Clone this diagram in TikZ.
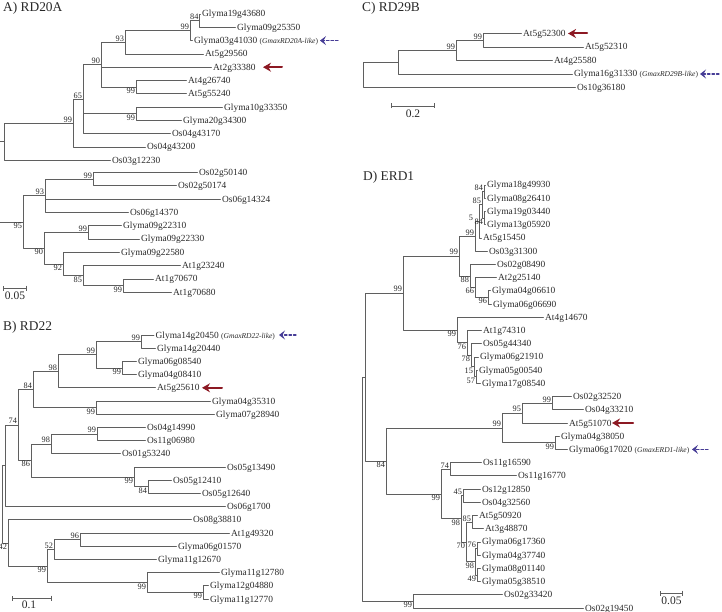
\documentclass[tikz,border=0pt]{standalone}
\usepackage{fontspec}
\setmainfont{Liberation Serif}
\usetikzlibrary{arrows.meta}
\definecolor{brgray}{RGB}{95,95,95}
\definecolor{txtgray}{RGB}{40,40,40}
\definecolor{arrred}{RGB}{140,25,35}
\definecolor{arrblue}{RGB}{70,60,150}
\tikzset{
    ttl/.style={
        font=\fontsize{13.4}{16}\selectfont, anchor=west, inner sep=0pt, text=txtgray
    }
}
\newcommand{\gmx}[1]{{\fontsize{7.5}{9}\selectfont(\textit{#1})}}

\begin{document}
\begin{tikzpicture}[x=1pt,y=-1pt, line cap=round, line join=round]

\tikzset{
  br/.style={draw=brgray, line width=0.75pt},
  leaf/.style={anchor=west, inner xsep=1.5pt, inner ysep=0pt, text height=6.4pt, text depth=0.4pt, font=\fontsize{9.4}{11}\selectfont, text=txtgray},
  bsu/.style={anchor=south east, inner sep=0.8pt, font=\fontsize{8.3}{10}\selectfont, text=txtgray},
  bsd/.style={anchor=north east, inner sep=0.8pt, font=\fontsize{8.3}{10}\selectfont, text=txtgray},
  scb/.style={draw=brgray, line width=0.8pt, {Bar[width=5pt]}-{Bar[width=5pt]}},
  sclab/.style={anchor=north, inner sep=1pt, font=\fontsize{11.5}{13}\selectfont, text=txtgray},
  redarr/.style={draw=arrred, line width=2pt, -{Stealth[length=8pt,width=9pt]}},
  bluearr/.style={draw=arrblue, line width=1.2pt, dash pattern=on 2.5pt off 2pt, -{Stealth[length=6pt,width=9pt,inset=2.5pt]}},
}

\useasboundingbox (0,0) rectangle (722,612);

% titles
\node[ttl] (tA) at (3,8) {A) RD20A};
\node[ttl] (tB) at (3,327) {B) RD22};
\node[ttl] (tC) at (362,8) {C) RD29B};
\node[ttl] (tD) at (363,177) {D) ERD1};

% ---------- A) RD20A, upper part
\coordinate (A84) at (199.5,20.65);
\coordinate (A99a) at (190,30.6);
\coordinate (A93) at (125,42.25);
\coordinate (A99b) at (136,87.15);
\coordinate (A90) at (101,64.7);
\coordinate (A99c) at (136,113.75);
\coordinate (A65) at (83,99.2);
\coordinate (A99d) at (73,123.1);
\coordinate (Aroot) at (4,141.7);
\coordinate (Astub) at (0,141.7);

\node[leaf] (Glyma19g43680) at (200.5,14) {Glyma19g43680};
\node[leaf] (Glyma09g25350) at (235.5,27.3) {Glyma09g25350};
\node[leaf] (Glyma03g41030) at (192.5,40.6) {Glyma03g41030 \gmx{GmaxRD20A-like}};
\node[leaf] (At5g29560) at (203.5,53.9) {At5g29560};
\node[leaf] (At2g33380) at (211.5,67.2) {At2g33380};
\node[leaf] (At4g26740) at (186.5,80.5) {At4g26740};
\node[leaf] (At5g55240) at (186.5,93.8) {At5g55240};
\node[leaf] (Glyma10g33350) at (222.5,107.1) {Glyma10g33350};
\node[leaf] (Glyma20g34300) at (181.5,120.4) {Glyma20g34300};
\node[leaf] (Os04g43170) at (170.5,133.7) {Os04g43170};
\node[leaf] (Os04g43200) at (145.5,147) {Os04g43200};
\node[leaf] (Os03g12230) at (110.5,160.3) {Os03g12230};

\draw[br] (A84) |- (Glyma19g43680.west) (A84) |- (Glyma09g25350.west);
\draw[br] (A99a) |- (A84) (A99a) |- (Glyma03g41030.west);
\draw[br] (A93) |- (A99a) (A93) |- (At5g29560.west);
\draw[br] (A99b) |- (At4g26740.west) (A99b) |- (At5g55240.west);
\draw[br] (A90) |- (A93) (A90) |- (At2g33380.west) (A90) |- (A99b);
\draw[br] (A99c) |- (Glyma10g33350.west) (A99c) |- (Glyma20g34300.west);
\draw[br] (A65) |- (A90) (A65) |- (A99c) (A65) |- (Os04g43170.west);
\draw[br] (A99d) |- (A65) (A99d) |- (Os04g43200.west);
\draw[br] (Aroot) |- (A99d) (Aroot) |- (Os03g12230.west);
\draw[br] (Astub) -- (Aroot);

\node[bsu] (bA84) at (A84) {84};
\node[bsu] (bA99a) at (A99a) {99};
\node[bsu] (bA93) at (A93) {93};
\node[bsu] (bA90) at (A90) {90};
\node[bsd] (bA99b) at (A99b) {99};
\node[bsd] (bA99c) at (A99c) {99};
\node[bsu] (bA65) at (A65) {65};
\node[bsu] (bA99d) at (A99d) {99};

% ---------- A) RD20A, lower part
\coordinate (A99e) at (93,179.15);
\coordinate (A93b) at (45,195.8);
\coordinate (A99f) at (88,232.35);
\coordinate (A99g) at (123,285.55);
\coordinate (A85) at (83,275.6);
\coordinate (A92) at (63,263.95);
\coordinate (A90b) at (44,248.15);
\coordinate (A95) at (23,222);
\coordinate (Astub2) at (0,222);

\node[leaf] (Os02g50140) at (197.5,172.5) {Os02g50140};
\node[leaf] (Os02g50174) at (176.5,185.8) {Os02g50174};
\node[leaf] (Os06g14324) at (220.5,199.1) {Os06g14324};
\node[leaf] (Os06g14370) at (128.5,212.4) {Os06g14370};
\node[leaf] (Glyma09g22310) at (121.5,225.7) {Glyma09g22310};
\node[leaf] (Glyma09g22330) at (139.5,239) {Glyma09g22330};
\node[leaf] (Glyma09g22580) at (119.5,252.3) {Glyma09g22580};
\node[leaf] (At1g23240) at (180.5,265.6) {At1g23240};
\node[leaf] (At1g70670) at (153.5,278.9) {At1g70670};
\node[leaf] (At1g70680) at (171.5,292.2) {At1g70680};

\draw[br] (A99e) |- (Os02g50140.west) (A99e) |- (Os02g50174.west);
\draw[br] (A93b) |- (A99e) (A93b) |- (Os06g14324.west) (A93b) |- (Os06g14370.west);
\draw[br] (A99f) |- (Glyma09g22310.west) (A99f) |- (Glyma09g22330.west);
\draw[br] (A99g) |- (At1g70670.west) (A99g) |- (At1g70680.west);
\draw[br] (A85) |- (At1g23240.west) (A85) |- (A99g);
\draw[br] (A92) |- (Glyma09g22580.west) (A92) |- (A85);
\draw[br] (A90b) |- (A99f) (A90b) |- (A92);
\draw[br] (A95) |- (A93b) (A95) |- (A90b);
\draw[br] (Astub2) -- (A95);

\node[bsu] (bA99e) at (A99e) {99};
\node[bsu] (bA93b) at (A93b) {93};
\node[bsd] (bA95) at (A95) {95};
\node[bsu] (bA99f) at (A99f) {99};
\node[bsd] (bA90b) at (A90b) {90};
\node[bsd] (bA92) at (A92) {92};
\node[bsd] (bA85) at (A85) {85};
\node[bsd] (bA99g) at (A99g) {99};

% scale A
\coordinate (sA1) at (3,288);
\coordinate (sA2) at (27,288);
\draw[scb] (sA1) -- (sA2);
\node[sclab] (sAl) at (15,291) {0.05};

% ---------- B) RD22
\coordinate (B99a) at (141,341.6);
\coordinate (B99c) at (122,368);
\coordinate (B99b) at (96,354.8);
\coordinate (B98) at (58,371.3);
\coordinate (B99d) at (96,407.6);
\coordinate (B84) at (33,389.45);
\coordinate (B99e) at (97,434);
\coordinate (B98b) at (51,443.9);
\coordinate (B84b) at (148,486.8);
\coordinate (B99f) at (134,476.9);
\coordinate (B86) at (31,460.4);
\coordinate (B74) at (18,424.9);
\coordinate (Bn1) at (5,465.75);
\coordinate (B99h) at (203,592.4);
\coordinate (B99g) at (147,582.5);
\coordinate (B96) at (80,539.6);
\coordinate (B52) at (54,549.5);
\coordinate (B99i) at (47,566);
\coordinate (B42) at (8,542.9);
\coordinate (Broot) at (2,504.3);

\node[leaf] (Glyma14g20450) at (154,335) {Glyma14g20450 \gmx{GmaxRD22-like}};
\node[leaf] (Glyma14g20440) at (155.5,348.2) {Glyma14g20440};
\node[leaf] (Glyma06g08540) at (136.5,361.4) {Glyma06g08540};
\node[leaf] (Glyma04g08410) at (136.5,374.6) {Glyma04g08410};
\node[leaf] (At5g25610) at (155.5,387.8) {At5g25610};
\node[leaf] (Glyma04g35310) at (210.5,401) {Glyma04g35310};
\node[leaf] (Glyma07g28940) at (214.5,414.2) {Glyma07g28940};
\node[leaf] (Os04g14990) at (145.5,427.4) {Os04g14990};
\node[leaf] (Os11g06980) at (145.5,440.6) {Os11g06980};
\node[leaf] (Os01g53240) at (120.5,453.8) {Os01g53240};
\node[leaf] (Os05g13490) at (225.5,467) {Os05g13490};
\node[leaf] (Os05g12410) at (171.5,480.2) {Os05g12410};
\node[leaf] (Os05g12640) at (200.5,493.4) {Os05g12640};
\node[leaf] (Os06g1700) at (225.5,506.6) {Os06g1700};
\node[leaf] (Os08g38810) at (191.5,519.8) {Os08g38810};
\node[leaf] (At1g49320) at (229.5,533) {At1g49320};
\node[leaf] (Glyma06g01570) at (176.5,546.2) {Glyma06g01570};
\node[leaf] (Glyma11g12670) at (156.5,559.4) {Glyma11g12670};
\node[leaf] (Glyma11g12780) at (219.5,572.6) {Glyma11g12780};
\node[leaf] (Glyma12g04880) at (208.5,585.8) {Glyma12g04880};
\node[leaf] (Glyma11g12770) at (208.5,599) {Glyma11g12770};

\draw[br] (B99a) |- (Glyma14g20450.west) (B99a) |- (Glyma14g20440.west);
\draw[br] (B99c) |- (Glyma06g08540.west) (B99c) |- (Glyma04g08410.west);
\draw[br] (B99b) |- (B99a) (B99b) |- (B99c);
\draw[br] (B98) |- (B99b) (B98) |- (At5g25610.west);
\draw[br] (B99d) |- (Glyma04g35310.west) (B99d) |- (Glyma07g28940.west);
\draw[br] (B84) |- (B98) (B84) |- (B99d);
\draw[br] (B99e) |- (Os04g14990.west) (B99e) |- (Os11g06980.west);
\draw[br] (B98b) |- (B99e) (B98b) |- (Os01g53240.west);
\draw[br] (B84b) |- (Os05g12410.west) (B84b) |- (Os05g12640.west);
\draw[br] (B99f) |- (Os05g13490.west) (B99f) |- (B84b);
\draw[br] (B86) |- (B98b) (B86) |- (B99f);
\draw[br] (B74) |- (B84) (B74) |- (B86);
\draw[br] (Bn1) |- (B74) (Bn1) |- (Os06g1700.west);
\draw[br] (B99h) |- (Glyma12g04880.west) (B99h) |- (Glyma11g12770.west);
\draw[br] (B99g) |- (Glyma11g12780.west) (B99g) |- (B99h);
\draw[br] (B96) |- (At1g49320.west) (B96) |- (Glyma06g01570.west);
\draw[br] (B52) |- (B96) (B52) |- (Glyma11g12670.west);
\draw[br] (B99i) |- (B52) (B99i) |- (B99g);
\draw[br] (B42) |- (Os08g38810.west) (B42) |- (B99i);
\draw[br] (Broot) |- (Bn1) (Broot) |- (B42);

\node[bsu] (bB99a) at (B99a) {99};
\node[bsd] (bB99c) at (B99c) {99};
\node[bsu] (bB99b) at (B99b) {99};
\node[bsu] (bB98) at (B98) {98};
\node[bsd] (bB99d) at (B99d) {99};
\node[bsu] (bB84) at (B84) {84};
\node[bsu] (bB99e) at (B99e) {99};
\node[bsu] (bB98b) at (B98b) {98};
\node[bsd] (bB84b) at (B84b) {84};
\node[bsd] (bB99f) at (B99f) {99};
\node[bsd] (bB86) at (B86) {86};
\node[bsu] (bB74) at (B74) {74};
\node[bsd] (bB99h) at (B99h) {99};
\node[bsd] (bB99g) at (B99g) {99};
\node[bsu] (bB96) at (B96) {96};
\node[bsu] (bB52) at (B52) {52};
\node[bsd] (bB99i) at (B99i) {99};
\node[bsd] (bB42) at (B42) {42};

% scale B
\coordinate (sB1) at (12,598);
\coordinate (sB2) at (52,598);
\draw[scb] (sB1) -- (sB2);
\node[sclab] (sBl) at (29,600) {0.1};

% ---------- C) RD29B
\coordinate (C99a) at (483,40.25);
\coordinate (C99b) at (456,50.4);
\coordinate (Cn1) at (398,62.2);
\coordinate (Croot) at (363,74.85);

\node[leaf] (At5g52300) at (521.5,33.5) {At5g52300};
\node[leaf] (At5g52310) at (583.5,47) {At5g52310};
\node[leaf] (At4g25580) at (552.5,60.5) {At4g25580};
\node[leaf] (Glyma16g31330) at (572.5,74) {Glyma16g31330 \gmx{GmaxRD29B-like}};
\node[leaf] (Os10g36180) at (575.5,87.5) {Os10g36180};

\draw[br] (C99a) |- (At5g52300.west) (C99a) |- (At5g52310.west);
\draw[br] (C99b) |- (C99a) (C99b) |- (At4g25580.west);
\draw[br] (Cn1) |- (C99b) (Cn1) |- (Glyma16g31330.west);
\draw[br] (Croot) |- (Cn1) (Croot) |- (Os10g36180.west);

\node[bsu] (bC99a) at (C99a) {99};
\node[bsu] (bC99b) at (C99b) {99};

% scale C
\coordinate (sC1) at (391,106);
\coordinate (sC2) at (435,106);
\draw[scb] (sC1) -- (sC2);
\node[sclab] (sCl) at (413,108.5) {0.2};

% ---------- D) ERD1
\coordinate (D84a) at (484,191.6);
\coordinate (D84b) at (484,218.05);
\coordinate (D85) at (482,204.8);
\coordinate (D5) at (479,221.35);
\coordinate (D99v) at (475,236.2);
\coordinate (D96) at (488,297.4);
\coordinate (D66) at (475,287.45);
\coordinate (D88) at (470,275.9);
\coordinate (D99u) at (459,256.05);
\coordinate (D57) at (476,376.7);
\coordinate (D15) at (474,366.8);
\coordinate (D78) at (471,355.2);
\coordinate (D76) at (467,342.8);
\coordinate (D99w) at (457,330);
\coordinate (D99top) at (403,293);
\coordinate (D99x) at (552,403.1);
\coordinate (D95) at (522,413.05);
\coordinate (D99y) at (555,442.8);
\coordinate (D99z) at (502,427.9);
\coordinate (D74) at (450,469.2);
\coordinate (D45) at (463,495.7);
\coordinate (D85b) at (472,522.1);
\coordinate (D76b) at (477,548.55);
\coordinate (D49) at (477,575);
\coordinate (D98b) at (475,561.8);
\coordinate (D70) at (466,541.95);
\coordinate (D98c) at (461,518.8);
\coordinate (D99aa) at (441,494);
\coordinate (D84) at (386,460.95);
\coordinate (Dn1) at (365,377);
\coordinate (D99bb) at (413,601.4);
\coordinate (Droot) at (362,489.2);

\node[leaf] (Glyma18g49930) at (485.5,185) {Glyma18g49930};
\node[leaf] (Glyma08g26410) at (485.5,198.2) {Glyma08g26410};
\node[leaf] (Glyma19g03440) at (485.5,211.4) {Glyma19g03440};
\node[leaf] (Glyma13g05920) at (485.5,224.7) {Glyma13g05920};
\node[leaf] (At5g15450) at (481.5,237.9) {At5g15450};
\node[leaf] (Os03g31300) at (487.5,251.1) {Os03g31300};
\node[leaf] (Os02g08490) at (495.5,264.3) {Os02g08490};
\node[leaf] (At2g25140) at (496.5,277.5) {At2g25140};
\node[leaf] (Glyma04g06610) at (490.5,290.8) {Glyma04g06610};
\node[leaf] (Glyma06g06690) at (491.5,304) {Glyma06g06690};
\node[leaf] (At4g14670) at (543.5,317.2) {At4g14670};
\node[leaf] (At1g74310) at (481.5,330.4) {At1g74310};
\node[leaf] (Os05g44340) at (481.5,343.6) {Os05g44340};
\node[leaf] (Glyma06g21910) at (478.5,356.9) {Glyma06g21910};
\node[leaf] (Glyma05g00540) at (477.5,370.1) {Glyma05g00540};
\node[leaf] (Glyma17g08540) at (480.5,383.3) {Glyma17g08540};
\node[leaf] (Os02g32520) at (571.5,396.5) {Os02g32520};
\node[leaf] (Os04g33210) at (583.5,409.7) {Os04g33210};
\node[leaf] (At5g51070) at (567.5,423) {At5g51070};
\node[leaf] (Glyma04g38050) at (559.5,436.2) {Glyma04g38050};
\node[leaf] (Glyma06g17020) at (567.5,449.4) {Glyma06g17020 \gmx{GmaxERD1-like}};
\node[leaf] (Os11g16590) at (481.5,462.6) {Os11g16590};
\node[leaf] (Os11g16770) at (516.5,475.8) {Os11g16770};
\node[leaf] (Os12g12850) at (480.5,489.1) {Os12g12850};
\node[leaf] (Os04g32560) at (480.5,502.3) {Os04g32560};
\node[leaf] (At5g50920) at (477.5,515.5) {At5g50920};
\node[leaf] (At3g48870) at (483.5,528.7) {At3g48870};
\node[leaf] (Glyma06g17360) at (480.5,541.9) {Glyma06g17360};
\node[leaf] (Glyma04g37740) at (480.5,555.2) {Glyma04g37740};
\node[leaf] (Glyma08g01140) at (480.5,568.4) {Glyma08g01140};
\node[leaf] (Glyma05g38510) at (480.5,581.6) {Glyma05g38510};
\node[leaf] (Os02g33420) at (502.5,594.8) {Os02g33420};
\node[leaf] (Os02g19450) at (583.5,608) {Os02g19450};

\draw[br] (D84a) |- (Glyma18g49930.west) (D84a) |- (Glyma08g26410.west);
\draw[br] (D84b) |- (Glyma19g03440.west) (D84b) |- (Glyma13g05920.west);
\draw[br] (D85) |- (D84a) (D85) |- (D84b);
\draw[br] (D5) |- (D85) (D5) |- (At5g15450.west);
\draw[br] (D99v) |- (D5) (D99v) |- (Os03g31300.west);
\draw[br] (D96) |- (Glyma04g06610.west) (D96) |- (Glyma06g06690.west);
\draw[br] (D66) |- (At2g25140.west) (D66) |- (D96);
\draw[br] (D88) |- (Os02g08490.west) (D88) |- (D66);
\draw[br] (D99u) |- (D99v) (D99u) |- (D88);
\draw[br] (D57) |- (Glyma05g00540.west) (D57) |- (Glyma17g08540.west);
\draw[br] (D15) |- (Glyma06g21910.west) (D15) |- (D57);
\draw[br] (D78) |- (Os05g44340.west) (D78) |- (D15);
\draw[br] (D76) |- (At1g74310.west) (D76) |- (D78);
\draw[br] (D99w) |- (At4g14670.west) (D99w) |- (D76);
\draw[br] (D99top) |- (D99u) (D99top) |- (D99w);
\draw[br] (D99x) |- (Os02g32520.west) (D99x) |- (Os04g33210.west);
\draw[br] (D95) |- (D99x) (D95) |- (At5g51070.west);
\draw[br] (D99y) |- (Glyma04g38050.west) (D99y) |- (Glyma06g17020.west);
\draw[br] (D99z) |- (D95) (D99z) |- (D99y);
\draw[br] (D74) |- (Os11g16590.west) (D74) |- (Os11g16770.west);
\draw[br] (D45) |- (Os12g12850.west) (D45) |- (Os04g32560.west);
\draw[br] (D85b) |- (At5g50920.west) (D85b) |- (At3g48870.west);
\draw[br] (D76b) |- (Glyma06g17360.west) (D76b) |- (Glyma04g37740.west);
\draw[br] (D49) |- (Glyma08g01140.west) (D49) |- (Glyma05g38510.west);
\draw[br] (D98b) |- (D76b) (D98b) |- (D49);
\draw[br] (D70) |- (D85b) (D70) |- (D98b);
\draw[br] (D98c) |- (D45) (D98c) |- (D70);
\draw[br] (D99aa) |- (D74) (D99aa) |- (D98c);
\draw[br] (D84) |- (D99z) (D84) |- (D99aa);
\draw[br] (Dn1) |- (D99top) (Dn1) |- (D84);
\draw[br] (D99bb) |- (Os02g33420.west) (D99bb) |- (Os02g19450.west);
\draw[br] (Droot) |- (Dn1) (Droot) |- (D99bb);

\node[bsu] (bD84a) at (D84a) {84};
\node[bsd] (bD84b) at (D84b) {84};
\node[bsu] (bD85) at (D85) {85};
\node[bsu, xshift=-5pt] (bD5) at (D5) {5};
\node[bsu] (bD99v) at (D99v) {99};
\node[bsd] (bD96) at (D96) {96};
\node[bsd] (bD66) at (D66) {66};
\node[bsd] (bD88) at (D88) {88};
\node[bsu] (bD99u) at (D99u) {99};
\node[bsd] (bD57) at (D57) {57};
\node[bsd] (bD15) at (D15) {15};
\node[bsd] (bD78) at (D78) {78};
\node[bsd] (bD76) at (D76) {76};
\node[bsd] (bD99w) at (D99w) {99};
\node[bsu] (bD99top) at (D99top) {99};
\node[bsu] (bD99x) at (D99x) {99};
\node[bsu] (bD95) at (D95) {95};
\node[bsd] (bD99y) at (D99y) {99};
\node[bsu] (bD99z) at (D99z) {99};
\node[bsu] (bD74) at (D74) {74};
\node[bsu] (bD45) at (D45) {45};
\node[bsu] (bD85b) at (D85b) {85};
\node[bsu] (bD76b) at (D76b) {76};
\node[bsd] (bD49) at (D49) {49};
\node[bsd] (bD98b) at (D98b) {98};
\node[bsd] (bD70) at (D70) {70};
\node[bsd] (bD98c) at (D98c) {98};
\node[bsd] (bD99aa) at (D99aa) {99};
\node[bsd] (bD84) at (D84) {84};
\node[bsd] (bD99bb) at (D99bb) {99};

% scale D
\coordinate (sD1) at (660,593);
\coordinate (sD2) at (683,593);
\draw[scb] (sD1) -- (sD2);
\node[sclab] (sDl) at (671.5,596) {0.05};

% arrows: Arabidopsis genes (red), soybean homologues (blue)
\coordinate (rA1) at (282,67.2);
\coordinate (rA2) at (263,67.2);
\coordinate (rB1) at (222,387.8);
\coordinate (rB2) at (202,387.8);
\coordinate (rC1) at (587,33.5);
\coordinate (rC2) at (568,33.5);
\coordinate (rD1) at (633,423);
\coordinate (rD2) at (612,423);
\draw[redarr] (rA1) -- (rA2);
\draw[redarr] (rB1) -- (rB2);
\draw[redarr] (rC1) -- (rC2);
\draw[redarr] (rD1) -- (rD2);

\coordinate (bl1) at (338,40.6);
\coordinate (bl2) at (320,40.6);
\coordinate (bl3) at (296,335);
\coordinate (bl4) at (279,335);
\coordinate (bl5) at (719,74);
\coordinate (bl6) at (700,74);
\coordinate (bl7) at (708,449.4);
\coordinate (bl8) at (692,449.4);
\draw[bluearr] (bl1) -- (bl2);
\draw[bluearr] (bl3) -- (bl4);
\draw[bluearr] (bl5) -- (bl6);
\draw[bluearr] (bl7) -- (bl8);

\end{tikzpicture}
\end{document}
